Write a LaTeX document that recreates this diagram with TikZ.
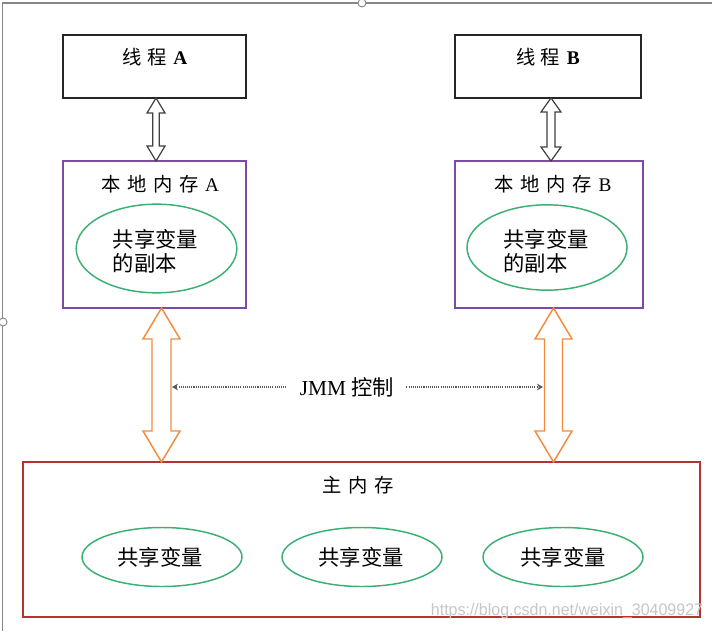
\documentclass[tikz,border=0pt]{standalone}
\usepackage{fontspec}
\setmainfont{Liberation Serif}
\newfontfamily\cjk{Noto Sans CJK SC}
\newfontfamily\wmfont{Liberation Sans}
\usetikzlibrary{shapes.geometric,arrows.meta}
\definecolor{purp}{RGB}{125,75,165}
\definecolor{grn}{RGB}{60,175,115}
\definecolor{mred}{RGB}{180,50,50}
\definecolor{orng}{RGB}{242,140,60}
\definecolor{framec}{RGB}{135,135,135}
\definecolor{dotc}{RGB}{90,90,90}
\newcommand\DblArrow[7]{%
  \draw[#7] (#1,#2) -- (#1+#4,#2+#6) -- (#1+#5,#2+#6) -- (#1+#5,#3-#6)
    -- (#1+#4,#3-#6) -- (#1,#3) -- (#1-#4,#3-#6) -- (#1-#5,#3-#6)
    -- (#1-#5,#2+#6) -- (#1-#4,#2+#6) -- cycle;}
\begin{document}
\begin{tikzpicture}[x=0.75pt,y=-0.75pt,
  tbox/.style={draw=black!85, line width=1.1pt, inner sep=0pt, outer sep=0pt},
  lbox/.style={draw=purp, line width=1.1pt, inner sep=0pt, outer sep=0pt},
  mbox/.style={draw=mred, line width=1.4pt, inner sep=0pt, outer sep=0pt},
  var/.style={ellipse, draw=grn, line width=1.1pt, inner sep=0pt, outer sep=0pt},
  lbl/.style={inner sep=0pt, font=\fontsize{14.5pt}{17pt}\selectfont},
  vtxt/.style={inner sep=0pt, align=left, font=\cjk\fontsize{16pt}{18pt}\selectfont},
  dotline/.style={draw=dotc, line width=1.4pt, dash pattern=on 0.8pt off 0.8pt},
  garrow/.style={draw=black!75, fill=white, line width=0.9pt},
  oarrow/.style={draw=orng, fill=white, line width=1.1pt}
]
\useasboundingbox (0,0) rectangle (712,631);
\fill[white] (0,0) rectangle (712,631);
% screenshot frame
\draw[framec, line width=0.8pt] (2.5,631) -- (2.5,3) -- (712,3);
\draw[framec, fill=white, line width=0.7pt] (362,3) circle[radius=3pt];
\draw[framec, fill=white, line width=0.7pt] (3,322) circle[radius=3pt];

% thread boxes
\node[tbox, minimum width=137.25pt, minimum height=47.25pt] (ta) at (154.5,66.5) {};
\node[tbox, minimum width=139.5pt, minimum height=47.25pt] (tb) at (548,66.5) {};
\node[lbl] (tal) at (155,57) {{\cjk 线\hspace{4pt}程}\hspace{5pt}\textbf{A}};
\node[lbl] (tbl) at (548,57) {{\cjk 线\hspace{4pt}程}\hspace{5pt}\textbf{B}};

% local memory boxes
\node[lbox, minimum width=137.25pt, minimum height=110.25pt] (la) at (154.5,234.5) {};
\node[lbox, minimum width=141pt, minimum height=110.25pt] (lb) at (549,234.5) {};
\node[lbl] (lal) at (160,184) {{\cjk 本\hspace{5pt}地\hspace{5pt}内\hspace{5pt}存}\hspace{5pt}A};
\node[lbl] (lbl) at (553,184) {{\cjk 本\hspace{5pt}地\hspace{5pt}内\hspace{5pt}存}\hspace{5pt}B};
\node[var, minimum width=120.5pt, minimum height=66.5pt] (va) at (156.5,248.5) {};
\node[var, minimum width=120pt, minimum height=64pt] (vb) at (547,247.5) {};
\node[vtxt] (vat) at (155.5,251) {共享变量\\的副本};
\node[vtxt] (vbt) at (546,251) {共享变量\\的副本};

% main memory
\node[mbox, minimum width=507.75pt, minimum height=116.25pt] (mm) at (361.5,539.5) {};
\node[lbl] (mml) at (358,485) {\cjk 主\hspace{5pt}内\hspace{5pt}存};
\node[var, minimum width=120pt, minimum height=44.25pt] (m1) at (162,557) {};
\node[var, minimum width=120pt, minimum height=44.25pt] (m2) at (362,557) {};
\node[var, minimum width=120pt, minimum height=44.25pt] (m3) at (563,557) {};
\node[vtxt] (m1t) at (160,557) {共享变量};
\node[vtxt] (m2t) at (361,557) {共享变量};
\node[vtxt] (m3t) at (563,557) {共享变量};

% thread <-> local double arrows
\DblArrow{156}{98}{161}{9}{3.2}{15}{garrow}
\DblArrow{551}{98}{161}{10}{4}{14}{garrow}

% local <-> main orange double arrows
\DblArrow{161.5}{308}{462}{18.5}{9.5}{31}{oarrow}
\DblArrow{553.5}{308}{462}{18.5}{9}{31}{oarrow}

% JMM control
\node[inner sep=0pt, font=\fontsize{16pt}{18pt}\selectfont] (jmm) at (347,387) {JMM\hspace{4pt}{\cjk 控制}};
\coordinate (jl) at (172,387);
\coordinate (jr) at (543,387);
\draw[dotline, -{Stealth[length=4.5pt,width=5pt]}, shorten <=10pt] (jmm.west) -- (jl);
\draw[dotline, -{Stealth[length=4.5pt,width=5pt]}, shorten <=9pt] (jmm.east) -- (jr);

% watermark
\node[inner sep=0pt, text=black!22, font=\wmfont\fontsize{12.5pt}{14pt}\selectfont, xscale=0.96, transform shape] (wm) at (567,611) {https://blog.csdn.net/weixin\_30409927};
\end{tikzpicture}
\end{document}
